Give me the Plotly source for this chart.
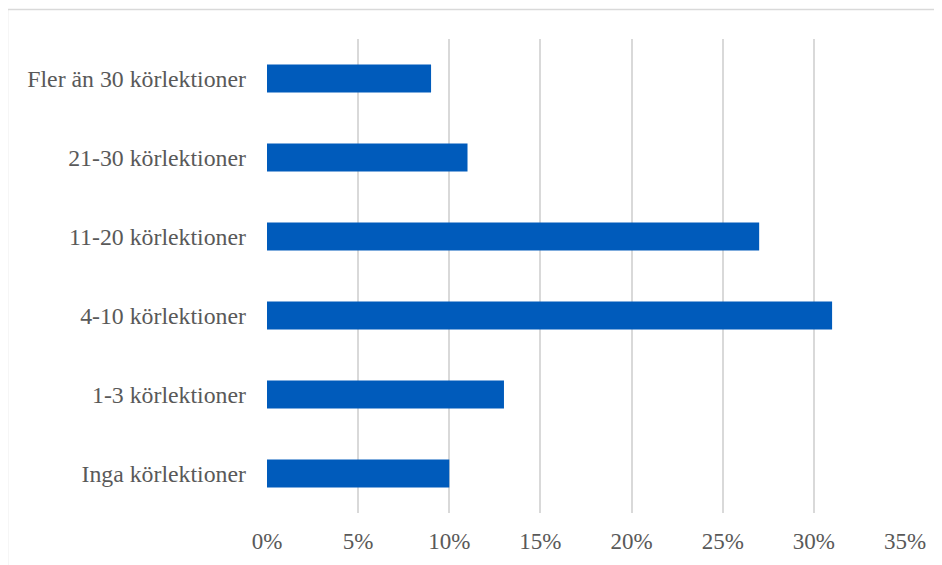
import plotly.graph_objects as go

categories = ["Inga körlektioner", "1-3 körlektioner", "4-10 körlektioner",
              "11-20 körlektioner", "21-30 körlektioner", "Fler än 30 körlektioner"]
values = [10, 13, 31, 27, 11, 9]
tick_vals = [0, 5, 10, 15, 20, 25, 30, 35]
tick_text = ["0%", "5%", "10%", "15%", "20%", "25%", "30%", "35%"]

fig = go.Figure(go.Bar(
    x=values, y=categories, orientation="h",
    marker=dict(color="#005BBB", line=dict(width=0)),
))

OFF = 8  # page body margin
W, H = 942 - OFF, 565 - OFF
ml, mt = 267 - OFF, 38.5 - OFF
mr = W - (905 - OFF)
mb = H - (513.5 - OFF)
pw, ph = W - ml - mr, H - mt - mb

FONT = '"Liberation Serif", "Times New Roman", "DejaVu Serif", serif'

fig.update_layout(
    width=W, height=H,
    margin=dict(l=ml, r=mr, t=mt, b=mb),
    paper_bgcolor="white", plot_bgcolor="white",
    bargap=0.646,
    showlegend=False,
    font=dict(family=FONT, size=23, color="#595959"),
    xaxis=dict(range=[0, 35], tickvals=tick_vals, ticktext=tick_text,
               showgrid=True, gridcolor="#d9d9d9", gridwidth=1.5,
               zeroline=False, showline=False, ticks="", ticklabelstandoff=12,
               fixedrange=True),
    yaxis=dict(categoryorder="array", categoryarray=categories,
               tickfont=dict(family=FONT, size=23.8, color="#595959"),
               showgrid=False, zeroline=False, showline=False, ticks="",
               ticklabelstandoff=20, fixedrange=True),
    shapes=[dict(type="rect", xref="paper", yref="paper",
                 x0=(7.5 - 267) / pw, x1=1.3,
                 y0=-0.3, y1=(513.5 - 9) / ph,
                 line=dict(color="#d9d9d9", width=1.5), fillcolor="rgba(0,0,0,0)",
                 layer="below")],
)

fig.write_html("out.html")
